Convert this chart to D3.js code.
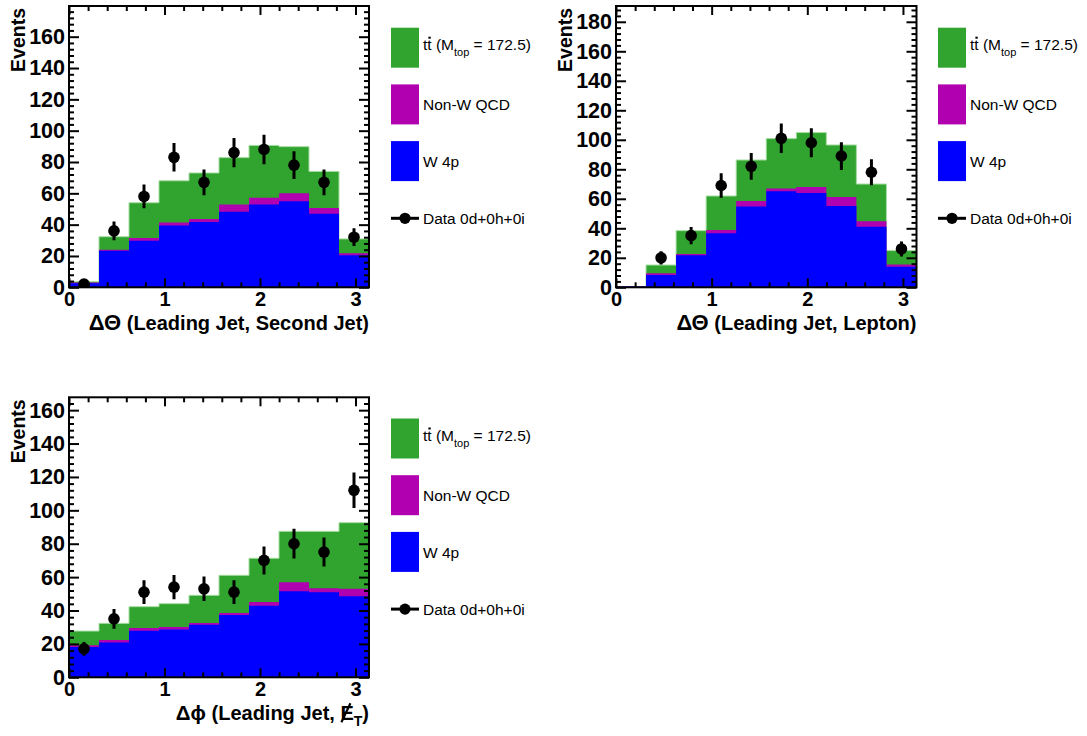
<!DOCTYPE html>
<html>
<head>
<meta charset="utf-8">
<script src="https://cdn.jsdelivr.net/npm/d3@7"></script>
<style>
  html, body { margin: 0; padding: 0; background: #fff; }
  svg { display: block; }
  text { font-family: "Liberation Sans", Arial, Helvetica, sans-serif; fill: #000; }
</style>
</head>
<body>
<svg id="chart" width="1087" height="736"></svg>
<script>
// Binning shared by all three distributions: 10 bins over [0, pi]
const binCount = 10;
const xMax = Math.PI;
const xMajorTicks = [0, 1, 2, 3];

// Delta Theta (leading jet, second jet)
const p1W4p = [2.6, 23.4, 29.8, 39.4, 41.7, 48.3, 52.8, 54.9, 47.0, 20.4];
const p1QCD = [0.4, 0.5, 1.7, 1.9, 1.9, 4.5, 4.4, 5.1, 3.6, 1.3];
const p1TT  = [0.6, 8.4, 22.5, 26.7, 29.4, 30.0, 33.4, 29.8, 23.4, 9.2];
const p1Data = [2, 36, 58, 83, 67, 86, 88, 78, 67, 32];
const p1Err  = [1.4, 6.0, 7.6, 9.1, 8.2, 9.3, 9.4, 8.8, 8.2, 5.7];

// Delta Theta (leading jet, lepton)
const p2W4p = [0.5, 8.4, 21.7, 36.6, 54.7, 65.1, 64.0, 55.1, 41.1, 14.0];
const p2QCD = [0.0, 1.1, 0.9, 2.3, 3.8, 1.8, 4.0, 6.1, 3.6, 1.4];
const p2TT  = [0.0, 5.6, 15.8, 23.0, 27.8, 33.9, 36.9, 35.3, 25.3, 9.5];
const p2Data = [null, 20, 35, 69, 82, 101, 98, 89, 78, 26];
const p2Err  = [0, 4.5, 5.9, 8.3, 9.1, 10.0, 9.9, 9.4, 8.8, 5.1];

// Delta phi (leading jet, missing ET)
const p3W4p = [18.2, 20.8, 27.9, 28.7, 31.5, 37.3, 42.9, 51.5, 50.9, 48.5];
const p3QCD = [1.0, 1.6, 1.6, 1.4, 1.0, 1.2, 2.2, 5.4, 2.4, 4.6];
const p3TT  = [8.5, 9.9, 12.8, 14.0, 16.6, 22.6, 26.2, 30.5, 34.1, 39.5];
const p3Data = [17, 35, 51, 54, 53, 51, 70, 80, 75, 112];
const p3Err  = [4.1, 5.9, 7.1, 7.3, 7.3, 7.1, 8.4, 8.9, 8.7, 10.6];

// Legend entries
const legendLabels = ["Non-W QCD", "W 4p", "Data 0d+0h+0i"];
const colors = { tt: "#31a42f", qcd: "#b000b0", w4p: "#0000ff", ttLine: "#a5dca0" };

const svg = d3.select("#chart");

const panels = [
  { left: 69,  top: 6,     width: 300,   height: 281.3, yMax: 179.6,
    w4p: p1W4p, qcd: p1QCD, tt: p1TT, data: p1Data, err: p1Err,
    greek: "ΔΘ", title: " (Leading Jet, Second Jet)", met: false,
    legendX: 391, legendY: 27.7 },
  { left: 616, top: 6,     width: 300.5, height: 281.3, yMax: 190.7,
    w4p: p2W4p, qcd: p2QCD, tt: p2TT, data: p2Data, err: p2Err,
    greek: "ΔΘ", title: " (Leading Jet, Lepton)", met: false,
    legendX: 938, legendY: 27.7 },
  { left: 69,  top: 397.3, width: 300,   height: 280,   yMax: 167.7,
    w4p: p3W4p, qcd: p3QCD, tt: p3TT, data: p3Data, err: p3Err,
    greek: "Δϕ", title: " (Leading Jet, ", met: true,
    legendX: 391, legendY: 418.5 }
];

panels.forEach((p, pi) => drawPanel(p, pi));

function drawPanel(p, pi) {
  const g = svg.append("g").attr("transform", `translate(${p.left},${p.top})`);
  const x = d3.scaleLinear().domain([0, xMax]).range([0, p.width]);
  const y = d3.scaleLinear().domain([0, p.yMax]).range([p.height, 0]);
  const edges = d3.range(binCount + 1).map(i => i * xMax / binCount);
  const centers = d3.range(binCount).map(i => (edges[i] + edges[i + 1]) / 2);

  // stacked totals: W, W+QCD, W+QCD+ttbar
  const sW = p.w4p.slice();
  const sQ = p.w4p.map((v, i) => v + p.qcd[i]);
  const sT = sQ.map((v, i) => v + p.tt[i]);

  const clipId = "clip" + pi;
  g.append("clipPath").attr("id", clipId)
    .append("rect").attr("width", p.width).attr("height", p.height);
  const plot = g.append("g").attr("clip-path", `url(#${clipId})`);

  const stepPoints = vals => edges.map((e, i) => [e, vals[Math.min(i, binCount - 1)]]);
  const area = d3.area().curve(d3.curveStepAfter)
    .x(d => x(d[0])).y0(y(0)).y1(d => y(d[1]));
  const line = d3.line().curve(d3.curveStepAfter)
    .x(d => x(d[0])).y(d => y(d[1]));

  plot.append("path").attr("d", area(stepPoints(sT))).attr("fill", colors.tt);
  plot.append("path").attr("d", line(stepPoints(sT)))
    .attr("fill", "none").attr("stroke", colors.ttLine).attr("stroke-width", 1);
  plot.append("path").attr("d", area(stepPoints(sQ))).attr("fill", colors.qcd);
  plot.append("path").attr("d", area(stepPoints(sW))).attr("fill", colors.w4p);

  // data points with error bars
  const pts = centers.map((c, i) => ({ c, v: p.data[i], e: p.err[i] }))
    .filter(d => d.v !== null);
  plot.selectAll("line.err").data(pts).join("line")
    .attr("class", "err")
    .attr("x1", d => x(d.c)).attr("x2", d => x(d.c))
    .attr("y1", d => y(d.v - d.e)).attr("y2", d => y(d.v + d.e))
    .attr("stroke", "#000").attr("stroke-width", 3);
  plot.selectAll("circle.pt").data(pts).join("circle")
    .attr("class", "pt")
    .attr("cx", d => x(d.c)).attr("cy", d => y(d.v)).attr("r", 5.8)
    .attr("fill", "#000");

  // axes: ticks on all four sides, pointing inward
  const yMajor = y.ticks(10).filter(v => v % 20 === 0);
  const yMinor = d3.range(0, p.yMax, 4).filter(v => v % 20 !== 0);
  const xMinor = d3.range(0, xMax, 0.2).filter(v => Math.abs(v - Math.round(v)) > 1e-6);

  const fmt = d3.format("d");
  const yAxisG = g.append("g").attr("class", "axis")
    .call(d3.axisLeft(y).tickValues(yMajor).tickSizeInner(-10).tickSizeOuter(0)
      .tickPadding(4).tickFormat(fmt));
  g.append("g").call(d3.axisLeft(y).tickValues(yMinor).tickSizeInner(-5).tickSizeOuter(0).tickFormat(""));
  g.append("g").attr("transform", `translate(${p.width},0)`)
    .call(d3.axisRight(y).tickValues(yMajor).tickSizeInner(-10).tickSizeOuter(0).tickFormat(""));
  g.append("g").attr("transform", `translate(${p.width},0)`)
    .call(d3.axisRight(y).tickValues(yMinor).tickSizeInner(-5).tickSizeOuter(0).tickFormat(""));

  const xAxisG = g.append("g").attr("class", "axis").attr("transform", `translate(0,${p.height})`)
    .call(d3.axisBottom(x).tickValues(xMajorTicks).tickSizeInner(-9).tickSizeOuter(0)
      .tickPadding(5).tickFormat(fmt));
  g.append("g").attr("transform", `translate(0,${p.height})`)
    .call(d3.axisBottom(x).tickValues(xMinor).tickSizeInner(-5).tickSizeOuter(0).tickFormat(""));
  g.append("g")
    .call(d3.axisTop(x).tickValues(xMajorTicks).tickSizeInner(-9).tickSizeOuter(0).tickFormat(""));
  g.append("g")
    .call(d3.axisTop(x).tickValues(xMinor).tickSizeInner(-5).tickSizeOuter(0).tickFormat(""));

  g.selectAll(".domain").remove();
  g.selectAll(".tick line").attr("stroke", "#000").attr("stroke-width", 2);
  g.selectAll("g").attr("font-family", null).attr("font-size", null);
  yAxisG.selectAll(".tick text")
    .attr("font-weight", "bold").attr("font-size", 21.5).attr("fill", "#000");
  xAxisG.selectAll(".tick text")
    .attr("font-weight", "bold").attr("font-size", 20).attr("fill", "#000");

  // frame
  g.append("rect").attr("width", p.width).attr("height", p.height)
    .attr("fill", "none").attr("stroke", "#000").attr("stroke-width", 2);

  // y title
  g.append("text")
    .attr("transform", `translate(-44,2) rotate(-90)`)
    .attr("text-anchor", "end")
    .attr("font-weight", "bold").attr("font-size", 19.5)
    .text("Events");

  // x title
  const xt = g.append("text")
    .attr("x", p.width).attr("y", p.height + 43)
    .attr("text-anchor", "end")
    .attr("font-weight", "bold").attr("font-size", 20);
  xt.append("tspan").attr("font-size", p.met ? 20.5 : 22).text(p.greek);
  xt.append("tspan").text(p.title);
  if (p.met) {
    xt.append("tspan").text("E");
    xt.append("tspan").attr("dy", 6).attr("font-size", 14).text("T");
    xt.append("tspan").attr("dy", -6).text(")");
    const idx = p.greek.length + p.title.length;
    const box = xt.node().getExtentOfChar(idx);
    g.append("line")
      .attr("x1", box.x + 1).attr("y1", p.height + 45)
      .attr("x2", box.x + box.width * 0.75).attr("y2", p.height + 43 - 17)
      .attr("stroke", "#000").attr("stroke-width", 2.2);
  }

  drawLegend(p);
}

function drawLegend(p) {
  const lg = svg.append("g").attr("transform", `translate(${p.legendX},${p.legendY})`);
  const boxW = 28, boxH = 40, step = 56.7;
  const fills = [colors.tt, colors.qcd, colors.w4p];
  fills.forEach((c, i) => {
    lg.append("rect").attr("x", 0).attr("y", i * step)
      .attr("width", boxW).attr("height", boxH).attr("fill", c);
  });

  // ttbar entry with subscripted top mass
  const t0 = lg.append("text").attr("x", boxW + 4).attr("y", boxH / 2 + 2.5)
    .attr("font-size", 15.5);
  t0.append("tspan").text("tt (M");
  t0.append("tspan").attr("dy", 6).attr("font-size", 11).text("top");
  t0.append("tspan").attr("dy", -6).text(" = 172.5)");
  const bar = t0.node().getExtentOfChar(1);
  lg.append("line")
    .attr("x1", bar.x + bar.width * 0.25).attr("x2", bar.x + bar.width * 0.8)
    .attr("y1", bar.y + 1.5).attr("y2", bar.y + 1.5)
    .attr("stroke", "#000").attr("stroke-width", 2);

  [1, 2].forEach(i => {
    lg.append("text").attr("x", boxW + 4).attr("y", i * step + boxH / 2 + 6)
      .attr("font-size", 15.5).text(legendLabels[i - 1]);
  });

  const dy = 190.6;
  lg.append("line").attr("x1", 0).attr("x2", boxW).attr("y1", dy).attr("y2", dy)
    .attr("stroke", "#000").attr("stroke-width", 3);
  lg.append("circle").attr("cx", boxW / 2).attr("cy", dy).attr("r", 5.6).attr("fill", "#000");
  lg.append("text").attr("x", boxW + 4).attr("y", dy + 6)
    .attr("font-size", 15.5).text(legendLabels[2]);
}
</script>
</body>
</html>
